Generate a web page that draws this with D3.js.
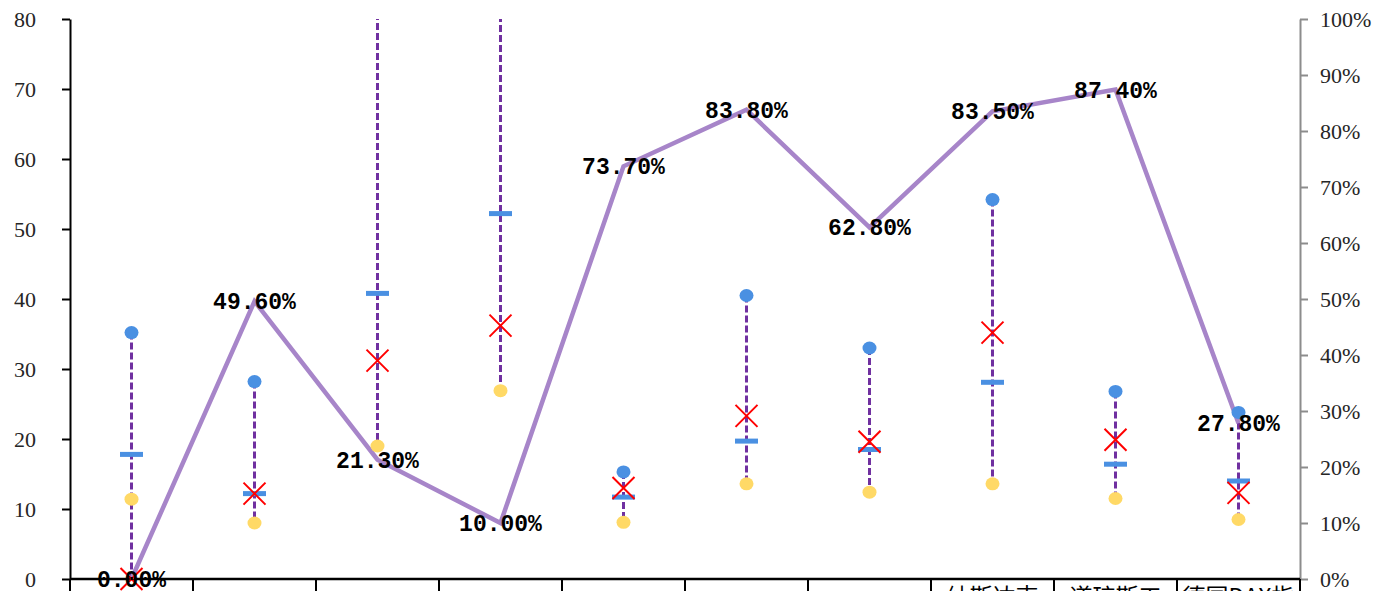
<!DOCTYPE html>
<html><head><meta charset="utf-8">
<script src="https://cdn.jsdelivr.net/npm/d3@7"></script>
<style>body{margin:0;background:#fff}svg{display:block}</style>
</head><body>
<script>
// ---- data ----
const categories = ["", "", "", "", "", "", "", "纳斯达克\n指数", "道琼斯工\n业指数", "德国DAX指\n数"];
const maxValues    = [35.2, 28.2, 88.0, 92.0, 15.3, 40.5, 33.0, 54.2, 26.8, 23.8];
const minValues    = [11.4, 8.0, 19.0, 26.9, 8.1, 13.6, 12.4, 13.6, 11.5, 8.5];
const medianValues = [17.8, 12.2, 40.8, 52.2, 11.7, 19.7, 18.5, 28.1, 16.4, 14.0];
const meanValues   = [0.0, 12.2, 31.2, 36.2, 13.0, 23.3, 19.6, 35.2, 19.9, 12.3];
const rateValues   = [0.0, 49.6, 21.3, 10.0, 73.7, 83.8, 62.8, 83.5, 87.4, 27.8];
const leftTicks  = [0, 10, 20, 30, 40, 50, 60, 70, 80];
const rightTicks = [0, 10, 20, 30, 40, 50, 60, 70, 80, 90, 100];

const W = 1373, H = 591;
const m = {left: 70, right: 73, top: 19, bottom: 12};
const svg = d3.select("body").append("svg").attr("width", W).attr("height", H);
const x = d3.scaleBand().domain(d3.range(categories.length)).range([m.left, W - m.right]).padding(0);
const y = d3.scaleLinear().domain([0, 80]).range([H - m.bottom, m.top]);
const y2 = d3.scaleLinear().domain([0, 100]).range([H - m.bottom, m.top]);
const cx = i => x(i) + x.bandwidth() / 2;

const defs = svg.append("defs");
defs.append("clipPath").attr("id", "plot")
  .append("rect").attr("x", m.left).attr("y", m.top).attr("width", W - m.left - m.right).attr("height", H - m.top - m.bottom);

const serif = "'Liberation Serif', 'DejaVu Serif', serif";

// left axis
const gl = svg.append("g").attr("transform", `translate(${m.left},0)`)
  .call(d3.axisLeft(y).tickValues(leftTicks).tickSize(8).tickSizeOuter(0).tickPadding(26));
gl.select(".domain").attr("stroke", "#000").attr("stroke-width", 2);
gl.selectAll(".tick line").attr("stroke", "#000").attr("stroke-width", 2);
gl.selectAll(".tick text").attr("font-family", serif).attr("font-size", 22).attr("fill", "#262626");

// right axis
const gr = svg.append("g").attr("transform", `translate(${W - m.right},0)`)
  .call(d3.axisRight(y2).tickValues(rightTicks).tickSize(8).tickSizeOuter(0).tickPadding(12).tickFormat(d => d + "%"));
gr.select(".domain").attr("stroke", "#8c8c8c").attr("stroke-width", 2);
gr.selectAll(".tick line").attr("stroke", "#8c8c8c").attr("stroke-width", 2);
gr.selectAll(".tick text").attr("font-family", serif).attr("font-size", 22).attr("fill", "#262626");

// bottom axis line + category dividers
const baseY = y(0);
svg.append("line").attr("x1", m.left).attr("x2", W - m.right).attr("y1", baseY).attr("y2", baseY)
  .attr("stroke", "#000").attr("stroke-width", 2.5);
svg.append("g").selectAll("line").data(d3.range(categories.length + 1)).join("line")
  .attr("x1", i => i < categories.length ? x(i) : W - m.right)
  .attr("x2", i => i < categories.length ? x(i) : W - m.right)
  .attr("y1", baseY).attr("y2", H + 5).attr("stroke", "#000").attr("stroke-width", 2);

// category labels (first wrapped line visible, clipped to its cell)
categories.forEach((c, i) => {
  if (!c) return;
  defs.append("clipPath").attr("id", "cat" + i).append("rect")
    .attr("x", x(i) + 2).attr("y", baseY).attr("width", x.bandwidth() - 4).attr("height", 40);
  svg.append("text").attr("clip-path", `url(#cat${i})`)
    .attr("x", cx(i)).attr("y", 605)
    .attr("text-anchor", "middle").attr("font-family", "'Noto Sans CJK SC', sans-serif")
    .attr("font-size", 23).attr("fill", "#000")
    .text(c.split("\n")[0]);
});

const plot = svg.append("g").attr("clip-path", "url(#plot)");
const idx = d3.range(categories.length);

// dashed range lines
plot.selectAll(".rng").data(idx).join("line")
  .attr("x1", cx).attr("x2", cx)
  .attr("y1", i => y(Math.max(maxValues[i], minValues[i], medianValues[i], meanValues[i])))
  .attr("y2", i => y(Math.min(maxValues[i], minValues[i], medianValues[i], meanValues[i])))
  .attr("stroke", "#7030A0").attr("stroke-width", 3).attr("stroke-dasharray", "7,3");

// rate line
plot.append("path").datum(idx)
  .attr("d", d3.line().x(cx).y(i => y2(rateValues[i])))
  .attr("fill", "none").attr("stroke", "#A785C9").attr("stroke-width", 4.5).attr("stroke-linejoin", "miter");

// markers
plot.selectAll(".mx").data(idx).join("ellipse")
  .attr("cx", cx).attr("cy", i => y(maxValues[i])).attr("rx", 7).attr("ry", 6.5).attr("fill", "#4A90E2");
plot.selectAll(".mn").data(idx).join("ellipse")
  .attr("cx", cx).attr("cy", i => y(minValues[i])).attr("rx", 7).attr("ry", 6.5).attr("fill", "#FFD966");
plot.selectAll(".md").data(idx).join("rect")
  .attr("x", i => cx(i) - 11.5).attr("y", i => y(medianValues[i]) - 2.5).attr("width", 23).attr("height", 5).attr("fill", "#4A90E2");
const xs = 11;
svg.append("g").selectAll("path").data(idx).join("path")
  .attr("d", i => { const px = cx(i), py = y(meanValues[i]);
    return `M${px - xs},${py - xs}L${px + xs},${py + xs}M${px - xs},${py + xs}L${px + xs},${py - xs}`; })
  .attr("stroke", "#FF0000").attr("stroke-width", 2).attr("fill", "none");

// rate labels
svg.append("g").selectAll("text").data(idx).join("text")
  .attr("x", cx).attr("y", i => y2(rateValues[i]))
  .attr("dy", "0.35em").attr("text-anchor", "middle")
  .attr("font-family", "'Liberation Mono', 'DejaVu Sans Mono', monospace")
  .attr("font-size", 23).attr("font-weight", "bold").attr("fill", "#000")
  .text(i => rateValues[i].toFixed(2) + "%");
</script>
</body></html>
